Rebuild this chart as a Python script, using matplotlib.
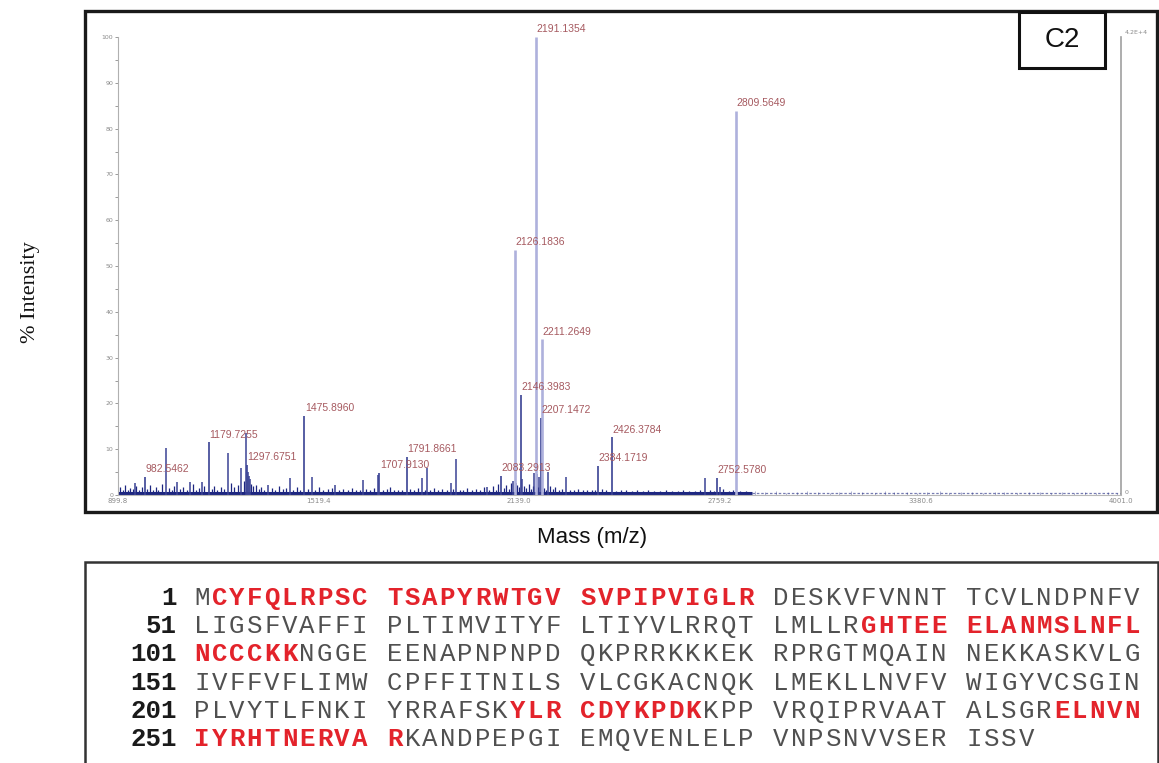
"""MALDI-TOF spectrum (C2) with peptide coverage map of the sequence below."""

import matplotlib.pyplot as plt
from matplotlib.patches import Rectangle

W, H = 1159, 763

# labelled peaks: m/z and % intensity
peak_mz = [982.5462, 1179.7255, 1297.6751, 1475.8960, 1707.9130, 1791.8661,
           2083.2913, 2126.1836, 2146.3983, 2191.1354, 2207.1472, 2211.2649,
           2384.1719, 2426.3784, 2752.5780, 2809.5649]
peak_int = [3.9, 11.5, 6.6, 17.2, 4.8, 8.3,
            4.1, 53.6, 21.8, 100.0, 16.8, 34.0,
            6.3, 12.6, 3.7, 83.9]

# unlabelled mid-size peaks
other_mz = [952, 1048.2, 1081, 1122, 1158, 1239.9, 1280.1, 1295.0, 1300.5, 1304,
            1307.5, 1364, 1431.6, 1498.7, 1570, 1657.4, 1703, 1839.8, 1855.3,
            1929.5, 1945, 2040, 2120, 2131, 2150, 2186, 2196, 2203, 2229.4, 2285,
            2714.9, 2760]
other_int = [2.6, 10.2, 2.8, 2.8, 2.8, 9.1, 5.9, 13.6, 5.0, 4.2,
             3.4, 2.2, 3.7, 4.0, 2.2, 3.3, 4.4, 3.7, 5.9,
             2.6, 7.9, 1.7, 3.0, 2.6, 3.5, 4.8, 4.5, 4.0, 5.0, 4.0,
             3.7, 1.7]

# low-level noise, dense region
noise_mz = [905, 914, 921, 930, 938, 946, 957, 966, 973, 990, 998, 1007, 1016,
            1024, 1035, 1058, 1066, 1074, 1090, 1101, 1112, 1131, 1140, 1150,
            1167, 1189, 1198, 1207, 1218, 1228, 1250, 1260, 1270, 1288, 1311,
            1318, 1326, 1335, 1343, 1352, 1375, 1386, 1398, 1409, 1420, 1442,
            1453, 1464, 1486, 1510, 1522, 1535, 1548, 1560, 1584, 1597, 1611,
            1624, 1636, 1648, 1668, 1680, 1692, 1718, 1730, 1741, 1753, 1766,
            1778, 1803, 1815, 1828, 1849, 1866, 1878, 1890, 1903, 1917, 1936,
            1956, 1968, 1980, 1993, 2006, 2018, 2031, 2048, 2058, 2068, 2076,
            2092, 2100, 2108, 2116, 2134, 2140, 2155, 2162, 2170, 2178, 2184,
            2198, 2218, 2224, 2236, 2244, 2252, 2262, 2274, 2296, 2310, 2322,
            2336, 2350, 2364, 2376, 2396, 2410, 2440, 2456, 2472, 2488, 2505,
            2522, 2540, 2558, 2576, 2594, 2612, 2630, 2648, 2666, 2684, 2700,
            2730, 2744, 2770, 2790, 2800, 2822, 2840]
noise_int = [1.8, 1.2, 2.1, 1.0, 1.6, 1.3, 2.0, 1.1, 1.7, 1.4, 2.2, 1.2, 1.8,
             1.0, 2.3, 1.5, 1.1, 2.0, 1.3, 1.8, 1.2, 2.4, 1.1, 1.6,
             1.9, 1.4, 2.0, 1.2, 1.7, 1.3, 2.6, 1.8, 2.2, 3.0, 2.4,
             1.9, 2.2, 1.4, 1.8, 1.2, 1.6, 1.1, 1.9, 1.3, 1.5, 1.2,
             1.7, 1.0, 1.4, 1.2, 1.8, 1.0, 1.3, 1.5, 1.1, 1.4, 1.0,
             1.6, 1.2, 1.0, 1.3, 1.1, 1.5, 1.0, 1.3, 1.8, 1.1, 1.2,
             1.0, 1.4, 1.1, 1.6, 1.0, 1.2, 1.5, 1.0, 1.3, 1.1, 1.4,
             1.0, 1.2, 1.5, 1.1, 1.3, 1.0, 1.8, 1.2, 2.0, 1.1, 2.4,
             1.5, 2.1, 1.3, 2.6, 2.2, 1.8, 2.0, 1.6, 2.4, 1.4, 2.0,
             1.8, 1.5, 1.2, 2.0, 1.3, 1.7, 1.1, 1.4, 1.2, 1.0, 1.3,
             1.1, 1.2, 1.0, 1.1, 1.3, 1.0, 0.9, 1.1, 1.0, 0.8, 1.0,
             0.9, 1.1, 0.8, 0.9, 1.0, 0.8, 0.9, 1.1, 0.8, 0.9, 1.0,
             1.2, 0.9, 1.3, 0.9, 1.0, 0.8, 0.9]

# faint noise beyond ~2850
tail_mz = [2870, 2900, 2935, 2965, 3000, 3030, 3065, 3100, 3130, 3165, 3200,
           3240, 3270, 3300, 3340, 3370, 3400, 3440, 3470, 3505, 3540, 3575,
           3610, 3640, 3680, 3715, 3750, 3785, 3820, 3855, 3890, 3925, 3960, 3990]
tail_int = [0.8, 0.6, 0.9, 0.5, 0.7, 0.8, 0.6, 0.5, 0.7, 0.9, 0.6,
            0.5, 0.8, 0.6, 0.7, 0.5, 0.6, 0.8, 0.5, 0.7, 0.6, 0.5,
            0.7, 0.6, 0.5, 0.6, 0.7, 0.5, 0.6, 0.5, 0.6, 0.5, 0.6, 0.5]

baseline_level = 0.5
x_ticks = [899.8, 1519.4, 2139.0, 2759.2, 3380.6, 4001.0]
x_ticklabels = ["899.8", "1519.4", "2139.0", "2759.2", "3380.6", "4001.0"]
y_ticks = [0, 10, 20, 30, 40, 50, 60, 70, 80, 90, 100]

# sequence panel
row_starts = [1, 51, 101, 151, 201, 251]
sequence = ("MCYFQLRPSCTSAPYRWTGVSVPIPVIGLRDESKVFVNNTTCVLNDPNFV"
            "LIGSFVAFFIPLTIMVITYFLTIYVLRRQTLMLLRGHTEEELANMSLNFL"
            "NCCCKKNGGEEENAPNPNPDQKPRRKKKEKRPRGTMQAINNEKKASKVLG"
            "IVFFVFLIMWCPFFITNILSVLCGKACNQKLMEKLLNVFVWIGYVCSGIN"
            "PLVYTLFNKIYRRAFSKYLRCDYKPDKKPPVRQIPRVAATALSGRELNVN"
            "IYRHTNERVARKANDPEPGIEMQVENLELPVNPSNVVSERISSV")
covered = [(2, 30), (86, 106), (218, 227), (246, 261)]

PEAK_LIGHT = "#aeb1dc"
PEAK_DARK = "#3a4294"
NOISE = "#1d2680"
LABEL = "#a65a60"
TICK = "#8a8a8a"
RED = "#e3232b"
GREY_TXT = "#505050"


def fx(px):
    return px / W


def fy(py):
    return 1 - py / H


fig = plt.figure(figsize=(W / 100, H / 100), dpi=100)

# outer frame of the spectrum and sequence box
fig.patches.append(Rectangle((fx(85), fy(512)), fx(1157) - fx(85), fy(11) - fy(512),
                             transform=fig.transFigure, fill=False, lw=2.4,
                             edgecolor="#1a1a1a"))
fig.patches.append(Rectangle((fx(85), fy(775)), fx(1158) - fx(85), fy(562) - fy(775),
                             transform=fig.transFigure, fill=False, lw=1.8,
                             edgecolor="#333333", clip_on=False))
# C2 tag box
fig.patches.append(Rectangle((fx(1019), fy(68)), fx(1105) - fx(1019), fy(12) - fy(68),
                             transform=fig.transFigure, fill=False, lw=2.2,
                             edgecolor="#111111"))
fig.text(fx(1062), fy(40), "C2", ha="center", va="center", fontsize=20,
         family="Liberation Sans", color="#111111")

ax = fig.add_axes([fx(118), fy(495), fx(1121) - fx(118), fy(37) - fy(495)])
ax.set_xlim(899.8, 4001.0)
ax.set_ylim(0, 100)

ax.hlines(baseline_level, 899.8, 2860, color=NOISE, lw=2.2)
ax.hlines(baseline_level, 2860, 4001.0, color=NOISE, lw=0.9, alpha=0.6,
          linestyles=(0, (2, 1.5)))
ax.vlines(tail_mz, 0, tail_int, color=NOISE, lw=0.5, alpha=0.5)
ax.vlines(noise_mz, 0, noise_int, color=NOISE, lw=0.9)
ax.vlines(other_mz, 0, other_int, color=PEAK_DARK, lw=1.1)
for mz, h in zip(peak_mz, peak_int):
    color = PEAK_LIGHT if h > 30 else PEAK_DARK
    ax.vlines(mz, 0, h, color=color, lw=1.9 if h > 30 else 1.2)
    ax.annotate(f"{mz:.4f}", (mz, h), xytext=(0.5, 2), textcoords="offset points",
                ha="left", va="bottom", fontsize=7.5, color=LABEL,
                family="Liberation Sans", annotation_clip=False)

ax.spines["top"].set_visible(False)
ax.spines["left"].set_color("#b0b0b0")
ax.spines["right"].set_color("#a0a0a0")
ax.spines["right"].set_linewidth(1.2)
ax.spines["bottom"].set_color("#b8b8b8")
ax.spines["left"].set_linewidth(0.8)
ax.spines["bottom"].set_linewidth(0.8)

ax.set_yticks(y_ticks)
ax.set_yticks(range(5, 100, 10), minor=True)
ax.tick_params(axis="y", which="both", direction="out", length=2.5, width=0.6,
               color=TICK, labelsize=4.5, labelcolor=TICK, pad=1)
ax.set_xticks(x_ticks)
ax.set_xticklabels(x_ticklabels)
ax.tick_params(axis="x", direction="out", length=0, labelsize=5, labelcolor=TICK, pad=2)
ax.text(1.004, 1.01, "4.2E+4", transform=ax.transAxes, fontsize=4.5, color=TICK,
        ha="left", va="center")
ax.text(1.004, 0.0, "0", transform=ax.transAxes, fontsize=4.5, color=TICK,
        ha="left", va="bottom")

fig.text(fx(592), fy(537), "Mass (m/z)", ha="center", va="center", fontsize=16,
         family="Liberation Sans", color="#111111")
fig.text(fx(30), fy(292), "% Intensity", ha="center", va="center", fontsize=16,
         family="Liberation Serif", rotation=90, color="#111111")

# peptide coverage map, one glyph per column on a fixed pitch
pitch = 17.55
x0 = 193
row_y0, row_dy = 598, 28.2


def is_covered(pos):
    return any(a <= pos <= b for a, b in covered)


for r, start in enumerate(row_starts):
    y = row_y0 + r * row_dy
    fig.text(fx(177), fy(y), str(start), ha="right", va="center", fontsize=18.5,
             family="Liberation Mono", weight="bold", color="#1a1a1a")
    chunk = sequence[start - 1:start + 49]
    for i, aa in enumerate(chunk):
        red = is_covered(start + i)
        col = i + i // 10
        fig.text(fx(x0 + col * pitch + pitch / 2), fy(y), aa, ha="center",
                 va="center", fontsize=18.5, family="Liberation Mono",
                 weight="bold" if red else "normal",
                 color=RED if red else GREY_TXT)

fig.savefig("out.png", dpi=100)
